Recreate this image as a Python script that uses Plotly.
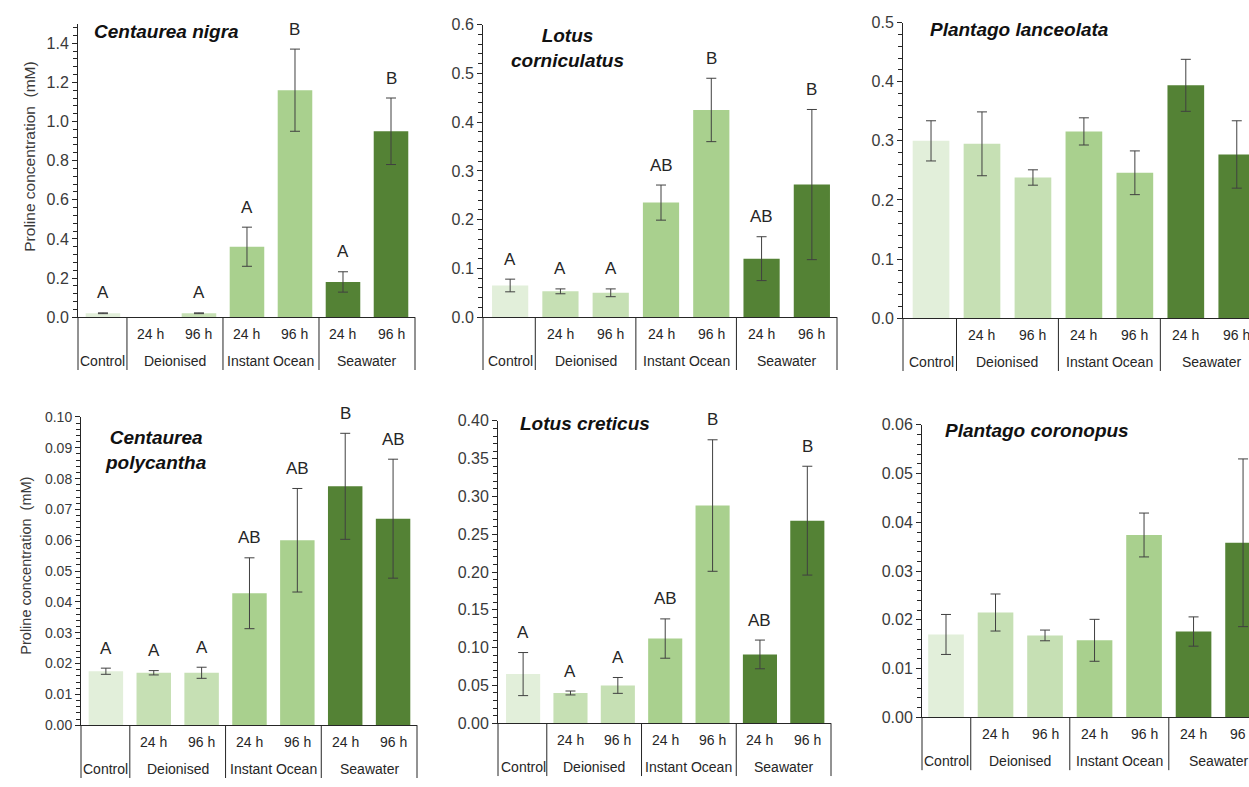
import plotly.graph_objects as go

W, H = 1249, 787

# ---- category layout shared by every panel ----
sub_labels = ["", "24 h", "96 h", "24 h", "96 h", "24 h", "96 h"]
group_names = ["Control", "Deionised", "Instant Ocean", "Seawater"]
group_centres = [0, 1.5, 3.5, 5.5]
group_edges = [0.5, 2.5, 4.5, 6.5]

# ---- proline concentration (mM): mean, standard error, significance letters ----
c_nigra_mean = [0.020, None, 0.020, 0.360, 1.160, 0.180, 0.950]
c_nigra_se = [0.002, None, 0.002, 0.100, 0.210, 0.052, 0.170]
c_nigra_sig = ["A", None, "A", "A", "B", "A", "B"]

l_corn_mean = [0.065, 0.053, 0.050, 0.235, 0.425, 0.120, 0.272]
l_corn_se = [0.013, 0.005, 0.008, 0.036, 0.065, 0.045, 0.154]
l_corn_sig = ["A", "A", "A", "AB", "B", "AB", "B"]

p_lanc_mean = [0.300, 0.295, 0.238, 0.316, 0.246, 0.394, 0.277]
p_lanc_se = [0.034, 0.054, 0.013, 0.023, 0.037, 0.044, 0.057]
p_lanc_sig = [None] * 7

c_poly_mean = [0.0175, 0.0170, 0.0170, 0.0428, 0.0600, 0.0775, 0.0670]
c_poly_se = [0.0010, 0.0007, 0.0018, 0.0115, 0.0168, 0.0172, 0.0193]
c_poly_sig = ["A", "A", "A", "AB", "AB", "B", "AB"]

l_cret_mean = [0.065, 0.040, 0.050, 0.112, 0.288, 0.091, 0.268]
l_cret_se = [0.0285, 0.0026, 0.0105, 0.026, 0.087, 0.019, 0.072]
l_cret_sig = ["A", "A", "A", "AB", "B", "AB", "B"]

p_coro_mean = [0.0170, 0.0215, 0.0168, 0.0158, 0.0374, 0.0176, 0.0358]
p_coro_se = [0.0041, 0.0038, 0.0011, 0.0043, 0.0045, 0.0030, 0.0172]
p_coro_sig = [None] * 7

# ---- styling ----
bar_colors = ["#E2EFDA", "#C6E0B4", "#C6E0B4", "#A9D08E", "#A9D08E", "#548235", "#548235"]
FONT = "Liberation Sans, Arial, sans-serif"
INK = "#262626"
TICK_INK = "#3a3a3a"

# plot boxes in pixels: left, right, top, bottom
panels = [
    dict(mean=c_nigra_mean, se=c_nigra_se, sig=c_nigra_sig,
         box=(78, 415, 16, 316), xr=(-0.52, 6.5), yr=(0, 1.5), dtick=0.2, minor=0.04,
         fmt=".1f", tfs=16,
         title="<b><i>Centaurea nigra</i></b>", tpos=(92, 24), talign="left"),
    dict(mean=l_corn_mean, se=l_corn_se, sig=l_corn_sig,
         box=(483, 837, 17, 316), xr=(-0.54, 6.5), yr=(0, 0.6), dtick=0.1, minor=0.02,
         fmt=".1f", tfs=16,
         title="<b><i>Lotus<br>corniculatus</i></b>", tpos=(567, 41), talign="center"),
    dict(mean=p_lanc_mean, se=p_lanc_se, sig=p_lanc_sig,
         box=(903, 1249, 15, 317), xr=(-0.55, 6.24), yr=(0, 0.5), dtick=0.1, minor=0.02,
         fmt=".1f", tfs=16,
         title="<b><i>Plantago lanceolata</i></b>", tpos=(928, 22), talign="left"),
    dict(mean=c_poly_mean, se=c_poly_se, sig=c_poly_sig,
         box=(81, 417, 418, 733), xr=(-0.52, 6.5), yr=(0, 0.1), dtick=0.01, minor=0.002,
         fmt=".2f", tfs=14,
         title="<b><i>Centaurea<br>polycantha</i></b>", tpos=(156, 452), talign="center"),
    dict(mean=l_cret_mean, se=l_cret_se, sig=l_cret_sig,
         box=(498, 831, 422, 731), xr=(-0.53, 6.5), yr=(0, 0.4), dtick=0.05, minor=0.01,
         fmt=".2f", tfs=16,
         title="<b><i>Lotus creticus</i></b>", tpos=(518, 425), talign="left"),
    dict(mean=p_coro_mean, se=p_coro_se, sig=p_coro_sig,
         box=(922, 1249, 426, 725), xr=(-0.485, 6.12), yr=(0, 0.06), dtick=0.01, minor=0.002,
         fmt=".2f", tfs=16,
         title="<b><i>Plantago coronopus</i></b>", tpos=(943, 432), talign="left"),
]

SUB_OFFSET = 17      # px below the category axis for "24 h" / "96 h"
GROUP_OFFSET = 44    # px below the category axis for treatment names
TABLE_DEPTH = 54     # px length of the divider lines under the axis

fig = go.Figure()
annotations = []
shapes = []

for k, p in enumerate(panels, start=1):
    xa = "x" if k == 1 else f"x{k}"
    ya = "y" if k == 1 else f"y{k}"
    L, R, T, B = p["box"]
    r0, r1 = p["xr"]
    plot_h = B - T

    xs = list(range(len(p["mean"])))
    fig.add_trace(go.Bar(
        x=xs, y=p["mean"], width=0.72,
        marker=dict(color=bar_colors, line=dict(width=0)),
        error_y=dict(type="data", array=p["se"], visible=True,
                     color="#404040", thickness=1, width=5),
        xaxis=xa, yaxis=ya, showlegend=False, hoverinfo="skip",
    ))

    lay_x = "xaxis" if k == 1 else f"xaxis{k}"
    lay_y = "yaxis" if k == 1 else f"yaxis{k}"
    fig.layout[lay_x] = dict(
        domain=[L / W, R / W], range=list(p["xr"]), anchor=ya,
        showline=True, linecolor=INK, linewidth=1, ticks="", showticklabels=False,
        showgrid=False, zeroline=False, fixedrange=True,
    )
    fig.layout[lay_y] = dict(
        domain=[1 - B / H, 1 - T / H], range=list(p["yr"]), anchor=xa,
        showline=True, linecolor=INK, linewidth=1,
        ticks="outside", ticklen=5, tickwidth=1, tickcolor=INK,
        tick0=0, dtick=p["dtick"], tickformat=p["fmt"],
        tickfont=dict(family=FONT, size=p["tfs"], color=TICK_INK),
        minor=dict(tick0=0, dtick=p["minor"], ticks="outside", ticklen=4,
                   tickwidth=1, tickcolor=INK),
        showgrid=False, zeroline=False, fixedrange=True,
    )

    # significance letters above error bars
    for i, (m, s, lab) in enumerate(zip(p["mean"], p["se"], p["sig"])):
        if lab is None or m is None:
            continue
        annotations.append(dict(
            x=i, y=m + s, xref=xa, yref=ya, text=lab, showarrow=False,
            yanchor="middle", yshift=20,
            font=dict(family=FONT, size=17, color=INK),
        ))

    # category table under the axis
    for i, lab in enumerate(sub_labels):
        if not lab:
            continue
        annotations.append(dict(
            x=i, y=0, xref=xa, yref=f"{ya} domain", text=lab, showarrow=False,
            yanchor="middle", yshift=-SUB_OFFSET,
            font=dict(family=FONT, size=14, color=INK),
        ))
    for name, c in zip(group_names, group_centres):
        annotations.append(dict(
            x=c, y=0, xref=xa, yref=f"{ya} domain", text=name, showarrow=False,
            yanchor="middle", yshift=-GROUP_OFFSET,
            font=dict(family=FONT, size=14, color=INK),
        ))
    depth = -TABLE_DEPTH / plot_h
    for e in [r0] + group_edges:
        xd = (e - r0) / (r1 - r0)
        if xd > 1.0001:
            continue
        shapes.append(dict(
            type="line", xref=f"{xa} domain", yref=f"{ya} domain",
            x0=xd, x1=xd, y0=0, y1=depth,
            line=dict(color=INK, width=1),
        ))

    # species name
    tx, ty = p["tpos"]
    annotations.append(dict(
        x=tx / W, y=1 - ty / H, xref="paper", yref="paper",
        text=p["title"], showarrow=False,
        xanchor="left" if p["talign"] == "left" else "center",
        yanchor="middle", align="center",
        font=dict(family=FONT, size=19, color="#111111"),
    ))

# shared y-axis titles on the left column
for cx, cy, fs in [(30, 152, 15.5), (26, 570, 14.5)]:
    annotations.append(dict(
        x=cx / W, y=1 - cy / H, xref="paper", yref="paper",
        text="Proline concentration  (mM)", textangle=-90, showarrow=False,
        xanchor="center", yanchor="middle",
        font=dict(family=FONT, size=fs, color=TICK_INK),
    ))

fig.update_layout(
    width=W, height=H, margin=dict(l=0, r=0, t=0, b=0),
    paper_bgcolor="white", plot_bgcolor="white",
    bargap=0.28, annotations=annotations, shapes=shapes,
    font=dict(family=FONT),
)

fig.write_html("out.html")
